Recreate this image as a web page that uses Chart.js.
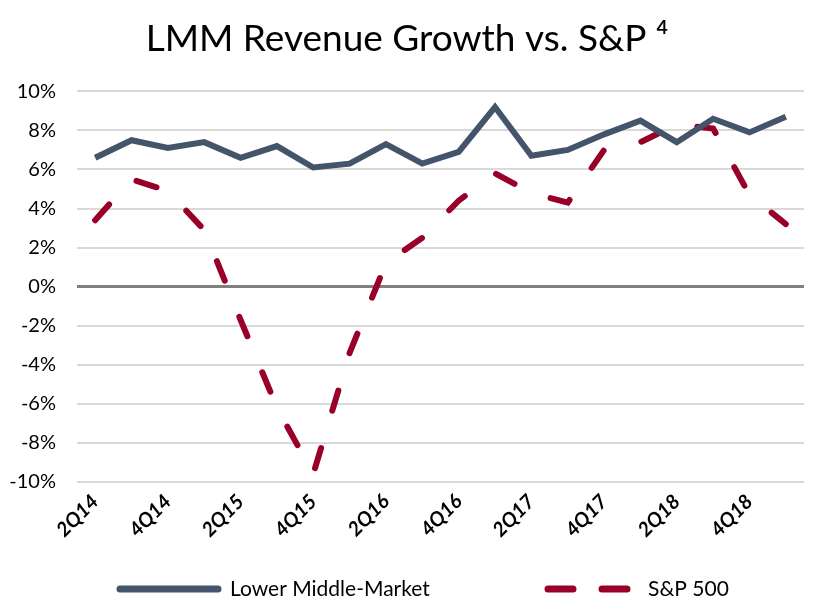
<!DOCTYPE html>
<html lang="en">
  <head>
    <meta charset="UTF-8">
    <title>LMM Revenue Growth vs. S&amp;P</title>
    <script src="https://cdn.jsdelivr.net/npm/chart.js"></script>
    <style>
      body { margin: 0; background: #fff; }
    </style>
  </head>
  <body>
  <canvas id="chart" width="820" height="611"></canvas>
    <script>
    const quarters = ['2Q14', '3Q14', '4Q14', '1Q15', '2Q15', '3Q15', '4Q15', '1Q16', '2Q16', '3Q16',
      '4Q16', '1Q17', '2Q17', '3Q17', '4Q17', '1Q18', '2Q18', '3Q18', '4Q18', '1Q19'];
    const lmm = [6.6, 7.5, 7.1, 7.4, 6.6, 7.2, 6.1, 6.3, 7.3, 6.3, 6.9, 9.2, 6.7, 7.0, 7.8, 8.5, 7.4, 8.6, 7.9, 8.7];
    const sp500 = [3.4, 5.5, 4.9, 2.9, -1.7, -6.2, -9.6, -3.4, 1.2, 2.5, 4.4, 5.8, 4.8, 4.3, 7.0, 7.4, 8.3, 8.1, 4.7, 3.2];
    const yTicks = [-10, -8, -6, -4, -2, 0, 2, 4, 6, 8, 10];

    const font = 'Lato, "Liberation Sans", sans-serif';
    Chart.defaults.font.family = font;
    Chart.defaults.color = '#000';

    // legend drawn by hand: excel spaces the two entries far apart
    const bottomLegend = {
      id: 'bottomLegend',
      afterDraw(chart) {
        const c = chart.ctx;
        const y = chart.height - 22;
        const slots = [
          { x0: 120, x1: 218, tx: 230 },
          { x0: 548, x1: 627, tx: 648 },
        ];
        c.save();
        c.font = '21px ' + font;
        c.textBaseline = 'middle';
        chart.data.datasets.forEach((ds, i) => {
          const s = slots[i];
          c.beginPath();
          c.strokeStyle = ds.borderColor;
          c.lineWidth = 7;
          c.lineCap = 'round';
          c.setLineDash(ds.borderDash ? [25, 29] : []);
          c.moveTo(s.x0, y);
          c.lineTo(s.x1, y);
          c.stroke();
          c.setLineDash([]);
          c.fillStyle = '#000';
          c.fillText(ds.label, s.tx, y);
        });
        c.restore();
      }
    };

    const ctx = document.getElementById('chart').getContext('2d');
    new Chart(ctx, {
      type: 'line',
      data: {
        labels: quarters,
        datasets: [
          {
            label: 'Lower Middle-Market',
            data: lmm,
            borderColor: '#44546a',
            backgroundColor: '#44546a',
            borderWidth: 6,
            pointRadius: 0,
            tension: 0,
            fill: false,
          },
          {
            label: 'S&P 500',
            data: sp500,
            borderColor: '#990028',
            backgroundColor: '#990028',
            borderWidth: 6,
            borderDash: [21, 39],
            borderCapStyle: 'round',
            pointRadius: 0,
            tension: 0,
            fill: false,
          },
        ]
      },
      options: {
        responsive: false,
        animation: false,
        layout: { padding: { left: 10, right: 16, bottom: 61 } },
        scales: {
          x: {
            offset: true,
            afterFit: scale => { scale.paddingLeft = 0; scale.paddingRight = 0; },
            grid: { display: false, drawTicks: false },
            border: { display: false },
            ticks: {
              autoSkip: false,
              maxRotation: 45,
              minRotation: 45,
              padding: 8,
              font: { size: 20, weight: 'bold', style: 'italic' },
              callback: (v, i) => i % 2 === 0 ? quarters[i] : '',
            }
          },
          y: {
            min: -10,
            max: 10,
            afterBuildTicks: axis => { axis.ticks = yTicks.map(v => ({ value: v })); },
            afterFit: axis => { axis.width = 67; },
            grid: {
              drawTicks: false,
              color: c => c.tick.value === 0 ? '#808080' : '#d9d9d9',
              lineWidth: c => c.tick.value === 0 ? 3 : 2,
            },
            border: { display: false },
            ticks: {
              padding: 21,
              font: { size: 20 },
              callback: v => v + '%',
            }
          }
        },
        plugins: {
          title: {
            display: true,
            text: 'LMM Revenue Growth vs. S&P \u2074',
            font: { size: 37, weight: 'normal' },
            color: '#000',
            padding: { top: 17, bottom: 30 }
          },
          legend: { display: false },
          tooltip: { enabled: false }
        }
      },
      plugins: [bottomLegend]
    });
    </script>
  </body>
</html>
